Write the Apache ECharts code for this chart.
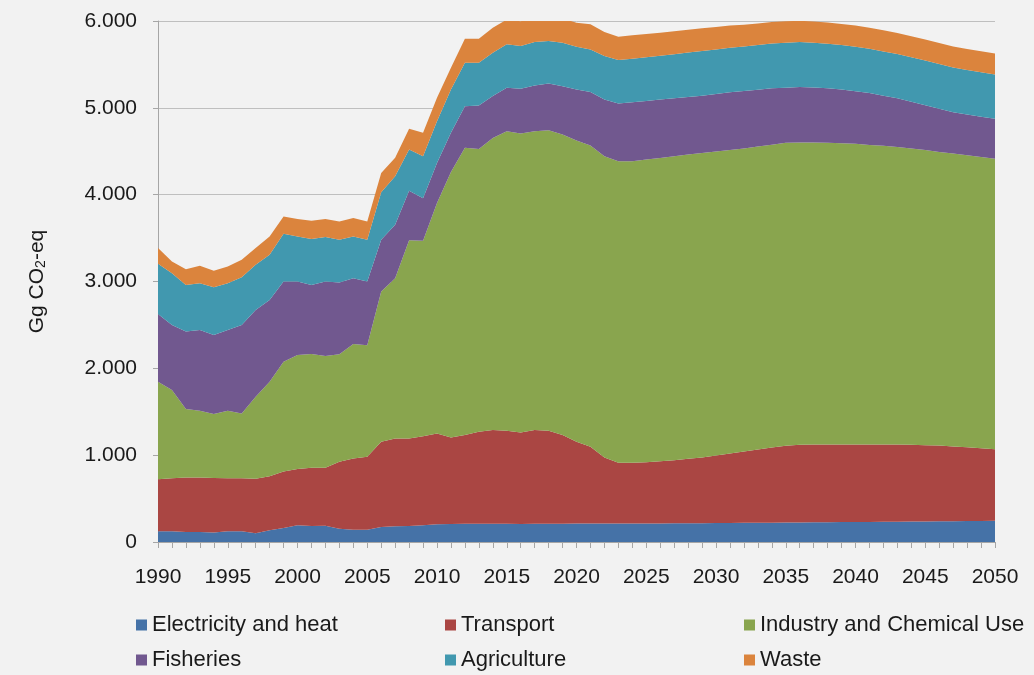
<!DOCTYPE html>
<html>
<head>
<meta charset="utf-8">
<script src="https://cdn.jsdelivr.net/npm/echarts@6/dist/echarts.min.js"></script>
<style>
  html, body { margin: 0; padding: 0; background: #f2f2f2; }
  #chart { width: 1034px; height: 675px; }
</style>
</head>
<body>
<div id="chart"></div>
<script>
const years = [];
for (let y = 1990; y <= 2050; y++) years.push(String(y));

const electricity = [
  123, 123, 115, 115, 108, 123, 123, 100, 135, 162,
  192, 185, 188, 154, 142, 142, 173, 181, 185, 192,
  204, 208, 210, 210, 210, 210, 208, 210, 210, 210,
  212, 212, 212, 212, 212, 213, 214, 215, 216, 217,
  218, 220, 221, 222, 223, 225, 226, 227, 228, 229,
  230, 231, 232, 234, 235, 237, 238, 240, 241, 243, 245
];
const transport = [
  600, 612, 627, 627, 630, 612, 610, 627, 623, 650,
  650, 669, 666, 769, 819, 839, 981, 1011, 1007, 1027,
  1046, 996, 1021, 1059, 1079, 1071, 1054, 1079, 1071, 1021,
  942, 884, 762, 700, 700, 706, 717, 727, 742, 756,
  779, 800, 822, 844, 866, 883, 893, 896, 895, 894,
  893, 892, 891, 888, 885, 878, 872, 860, 849, 837, 824
];
const industry = [
  1123, 1015, 789, 769, 735, 776, 747, 946, 1088, 1265,
  1311, 1311, 1288, 1238, 1320, 1284, 1730, 1846, 2283, 2251,
  2654, 3056, 3308, 3258, 3365, 3450, 3442, 3442, 3461, 3461,
  3469, 3470, 3469, 3473, 3473, 3485, 3492, 3501, 3504, 3508,
  3499, 3495, 3490, 3488, 3487, 3489, 3481, 3477, 3475, 3469,
  3462, 3450, 3439, 3428, 3411, 3400, 3382, 3373, 3364, 3355, 3346
];
const fisheries = [
  781, 750, 892, 931, 911, 931, 1020, 1000, 942, 923,
  847, 796, 858, 827, 757, 735, 597, 616, 571, 488,
  462, 452, 480, 500, 481, 500, 516, 527, 539, 558,
  589, 615, 653, 665, 680, 676, 672, 667, 663, 659,
  662, 664, 660, 655, 650, 634, 639, 635, 627, 618,
  607, 597, 578, 560, 539, 515, 498, 477, 468, 463, 459
];
const agriculture = [
  577, 596, 538, 538, 550, 538, 550, 519, 519, 550,
  519, 528, 512, 493, 481, 481, 546, 557, 473, 484,
  480, 500, 501, 493, 500, 500, 492, 500, 489, 500,
  492, 492, 500, 500, 500, 503, 505, 508, 511, 514,
  514, 514, 514, 515, 515, 519, 519, 515, 514, 513,
  512, 510, 510, 510, 512, 515, 515, 515, 513, 512, 511
];
const waste = [
  181, 135, 181, 201, 189, 193, 200, 193, 212, 200,
  201, 211, 208, 211, 212, 211, 223, 213, 239, 270,
  269, 250, 277, 277, 288, 285, 285, 280, 278, 278,
  277, 289, 277, 270, 270, 268, 266, 265, 263, 262,
  260, 255, 250, 248, 247, 246, 245, 244, 244, 243,
  243, 243, 243, 243, 243, 243, 243, 242, 242, 242, 242
];

const FONT = "'Liberation Sans', Arial, sans-serif";
const TEXT = "#1a1a1a";

const seriesDefs = [
  { name: "Electricity and heat", data: electricity, color: "#4572a7" },
  { name: "Transport", data: transport, color: "#aa4643" },
  { name: "Industry and Chemical Use", data: industry, color: "#89a54e" },
  { name: "Fisheries", data: fisheries, color: "#71588f" },
  { name: "Agriculture", data: agriculture, color: "#4198af" },
  { name: "Waste", data: waste, color: "#db843d" },
];

// one legend per column, two rows each
const legendBase = {
  orient: "vertical",
  top: 614,
  height: 61,
  padding: 0,
  icon: "rect",
  itemWidth: 11,
  itemHeight: 11,
  itemGap: 13,
  textStyle: { fontFamily: FONT, fontSize: 22, color: TEXT, lineHeight: 20 },
};

const chart = echarts.init(document.getElementById("chart"), null, { renderer: "canvas" });
chart.setOption({
  backgroundColor: "#f2f2f2",
  animation: false,
  grid: { left: 158, right: 39, top: 21, bottom: 133 },
  legend: [
    { ...legendBase, left: 136, data: ["Electricity and heat", "Fisheries"] },
    { ...legendBase, left: 445, data: ["Transport", "Agriculture"] },
    { ...legendBase, left: 744, data: ["Industry and Chemical Use", "Waste"] },
  ],
  xAxis: {
    type: "category",
    data: years,
    boundaryGap: false,
    axisLine: { lineStyle: { color: "#a6a6a6", width: 1 } },
    axisTick: { show: true, interval: 0, length: 6, lineStyle: { color: "#a6a6a6" } },
    axisLabel: { interval: 4, margin: 25, fontFamily: FONT, fontSize: 21, color: TEXT },
    splitLine: { show: false },
  },
  yAxis: {
    type: "value",
    min: 0,
    max: 6000,
    interval: 1000,
    name: "{a|Gg CO}{s|2}{a|-eq}",
    nameLocation: "middle",
    nameGap: 110,
    nameRotate: 90,
    nameTextStyle: {
      rich: {
        a: { fontFamily: FONT, fontSize: 21, color: TEXT },
        s: { fontFamily: FONT, fontSize: 14, color: TEXT, verticalAlign: "bottom", padding: [8, 0, 0, 0] },
      },
    },
    axisLine: { show: true, lineStyle: { color: "#a6a6a6", width: 1 } },
    axisTick: { show: true, length: 5, lineStyle: { color: "#a6a6a6" } },
    axisLabel: {
      margin: 21,
      fontFamily: FONT,
      fontSize: 21,
      color: TEXT,
      formatter: (v) => (v === 0 ? "0" : (v / 1000).toFixed(0) + ".000"),
    },
    splitLine: { show: true, lineStyle: { color: "#bfbfbf", width: 1 } },
  },
  series: seriesDefs.map((s) => ({
    name: s.name,
    type: "line",
    stack: "total",
    data: s.data,
    showSymbol: false,
    symbol: "none",
    lineStyle: { width: 0 },
    itemStyle: { color: s.color },
    areaStyle: { color: s.color, opacity: 1 },
  })),
});
</script>
</body>
</html>
